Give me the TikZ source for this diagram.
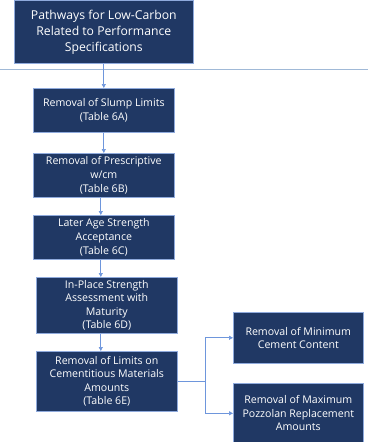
\documentclass[tikz,border=0pt]{standalone}
\usepackage{fontspec}
\setmainfont{Open Sans}
\usetikzlibrary{arrows.meta}
\definecolor{navy}{RGB}{32,56,100}
\definecolor{edgeblue}{RGB}{143,170,220}
\definecolor{linkblue}{RGB}{110,150,220}
\definecolor{rule}{RGB}{160,185,215}
\begin{document}
\begin{tikzpicture}[x=1pt,y=-1pt,
  box/.style={draw=edgeblue,line width=0.6pt,fill=navy,text=white,align=center,
    inner sep=0pt,anchor=north west,font=\fontsize{10.6}{13.6}\selectfont},
  link/.style={draw=linkblue,line width=0.7pt,-{Triangle[length=4pt,width=4pt]}}]
\useasboundingbox (0,0) rectangle (368,442);
\fill[white] (0,0) rectangle (368,442);
% heading box and the rule under it
\node[box,minimum width=179pt,minimum height=63pt,font=\fontsize{12.2}{16}\selectfont]
  (head) at (14,0) {Pathways for Low-Carbon\\Related to Performance\\Specifications};
\draw[rule,line width=1pt] (0,69.5) -- (368,69.5);
% main chain
\node[box,minimum width=141pt,minimum height=44pt] (a) at (33,88)
  {Removal of Slump Limits\\(Table 6A)};
\node[box,minimum width=141pt,minimum height=44pt] (b) at (33,153)
  {Removal of Prescriptive\\w/cm\\(Table 6B)};
\node[box,minimum width=141pt,minimum height=44pt] (c) at (33,215)
  {Later Age Strength\\Acceptance\\(Table 6C)};
\node[box,minimum width=141pt,minimum height=56pt] (d) at (36,277)
  {In-Place Strength\\Assessment with\\Maturity\\(Table 6D)};
\node[box,minimum width=141pt,minimum height=60pt] (e) at (36,351)
  {Removal of Limits on\\Cementitious Materials\\Amounts\\(Table 6E)};
% branches
\node[box,minimum width=130pt,minimum height=51pt] (f) at (233,312)
  {Removal of Minimum\\Cement Content};
\node[box,minimum width=130pt,minimum height=60pt] (g) at (233,383)
  {Removal of Maximum\\Pozzolan Replacement\\Amounts};
% connectors
\draw[link] (head.south) -- (head.south |- a.north);
\draw[link] (a.south) -- (a.south |- b.north);
\draw[link] ([xshift=-3pt]b.south) -- ([xshift=-3pt]b.south |- c.north);
\draw[link] ([xshift=-3pt]c.south) -- ([xshift=-3pt]c.south |- d.north);
\draw[link] ([xshift=-6pt]d.south) -- ([xshift=-6pt]d.south |- e.north);
\coordinate (split) at ([xshift=28pt]e.east);
\draw[linkblue,line width=0.7pt] (e.east) -- (split);
\draw[link] (split) |- (f.west);
\draw[link] (split) |- (g.west);
\end{tikzpicture}
\end{document}
